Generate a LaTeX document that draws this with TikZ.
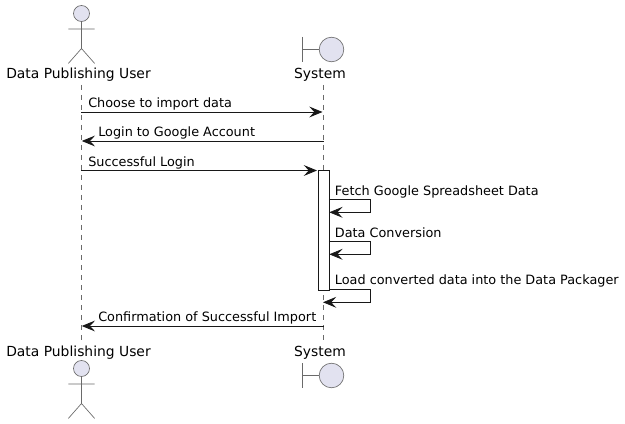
\documentclass[tikz,border=0pt]{standalone}
\usepackage{fontspec}
\setmainfont{DejaVu Sans}
\usetikzlibrary{arrows.meta}
\definecolor{partfill}{HTML}{E2E2F0}
\definecolor{partline}{HTML}{6A6A6A}
\definecolor{msgline}{HTML}{181818}
\begin{document}
\begin{tikzpicture}[x=0.75pt,y=-0.75pt,
  lifeline/.style={draw=partline,line width=0.4pt,dash pattern=on 3.75pt off 3.75pt},
  figline/.style={draw=partline,line width=0.5pt},
  figfill/.style={figline,fill=partfill},
  partlabel/.style={font=\fontsize{10.4}{12}\selectfont,inner sep=0pt,anchor=base,text=black},
  msglabel/.style={font=\fontsize{9.62}{11}\selectfont,inner sep=0pt,anchor=base west,text=black},
  msg/.style={draw=msgline,line width=0.6pt,-{Stealth[length=10pt,width=8.2pt,inset=3.9pt,fill=msgline]}},
  activation/.style={draw=msgline,line width=0.6pt,fill=white,inner sep=0pt,anchor=north west,minimum width=7.9pt,minimum height=90pt}]
\useasboundingbox (0,0) rectangle (625,424);
\fill[white] (0,0) rectangle (625,424);
% lifelines
\coordinate (uTop) at (81.3,85); \coordinate (uBot) at (81.3,343);
\coordinate (sTop) at (323.5,85); \coordinate (sBot) at (323.5,343);
\draw[lifeline] (uTop) -- (uBot);
\draw[lifeline] (sTop) -- (sBot);
% participants
\node[partlabel] (uLabelTop) at (78.5,78.7) {Data Publishing User};
\node[partlabel] (sLabelTop) at (320,78.7) {System};
\node[partlabel] (uLabelBot) at (78.5,356.3) {Data Publishing User};
\node[partlabel] (sLabelBot) at (320,356.3) {System};
% actors
\foreach \n/\y in {A/13.5,B/368.5}{
  \draw[figfill] (81.5,\y) circle (8);
  \draw[figline] (81.5,\y+8) -- (81.5,\y+35) (68.3,\y+15.5) -- (94.7,\y+15.5)
    (68.3,\y+50) -- (81.5,\y+35) -- (94.7,\y+50);
}
% boundaries
\foreach \n/\y in {A/49.5,B/375.5}{
  \draw[figline] (302,\y-12.5) -- (302,\y+12.5) (302,\y) -- (319,\y);
  \draw[figfill] (331.5,\y) circle (12.3);
}
% activation
\node[activation] (act) at (318.3,170) {};
% message end points
\coordinate (m1a) at (81.3,112); \coordinate (m1b) at (322.5,112);
\coordinate (m2a) at (323.5,141); \coordinate (m2b) at (81.8,141);
\coordinate (m3a) at (81.3,170.5); \coordinate (m3b) at (317,170.5);
\coordinate (m4a) at (328.8,199.3); \coordinate (m4b) at (370.5,199.3);
\coordinate (m4c) at (370.5,212.3); \coordinate (m4d) at (329.3,212.3);
\coordinate (m5a) at (328.8,241.3); \coordinate (m5b) at (370.5,241.3);
\coordinate (m5c) at (370.5,254.3); \coordinate (m5d) at (329.3,254.3);
\coordinate (m6a) at (328.8,289.3); \coordinate (m6b) at (370.5,289.3);
\coordinate (m6c) at (370.5,302.3); \coordinate (m6d) at (323,302.3);
\coordinate (m7a) at (323.5,326); \coordinate (m7b) at (81.8,326);
% messages
\draw[msg] (m1a) -- (m1b);
\draw[msg] (m2a) -- (m2b);
\draw[msg] (m3a) -- (m3b);
\draw[msg] (m4a) -- (m4b) -- (m4c) -- (m4d);
\draw[msg] (m5a) -- (m5b) -- (m5c) -- (m5d);
\draw[msg] (m6a) -- (m6b) -- (m6c) -- (m6d);
\draw[msg] (m7a) -- (m7b);
% labels
\node[msglabel] (l1) at (88,107.7) {Choose to import data};
\node[msglabel] (l2) at (98,136.7) {Login to Google Account};
\node[msglabel] (l3) at (88,166.2) {Successful Login};
\node[msglabel] (l4) at (334.7,195.2) {Fetch Google Spreadsheet Data};
\node[msglabel] (l5) at (334.7,237.2) {Data Conversion};
\node[msglabel] (l6) at (334.7,284.7) {Load converted data into the Data Packager};
\node[msglabel] (l7) at (98,321.7) {Confirmation of Successful Import};
\end{tikzpicture}
\end{document}
